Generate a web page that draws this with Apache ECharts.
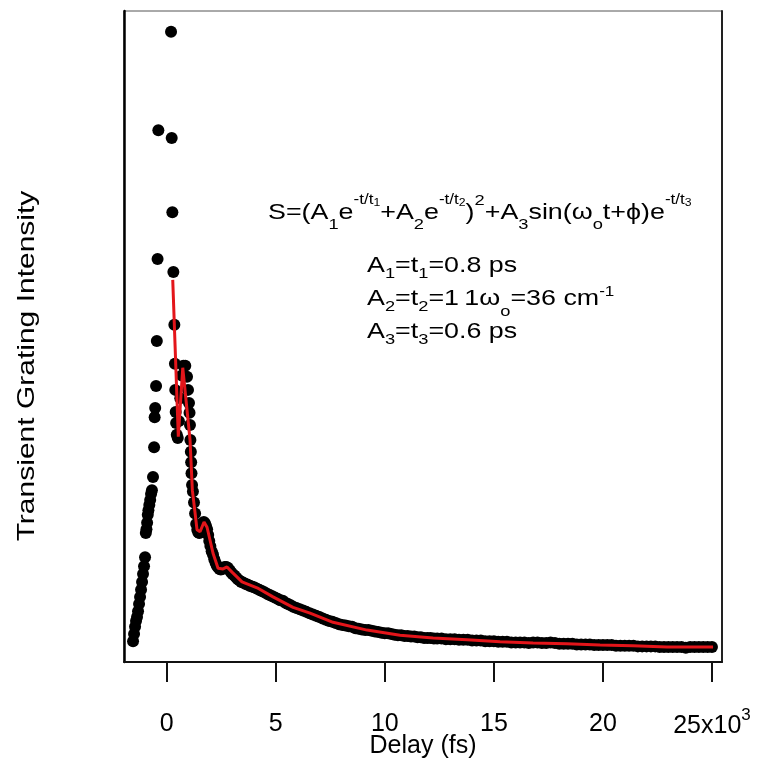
<!DOCTYPE html>
<html>
<head>
<meta charset="utf-8">
<script src="https://cdn.jsdelivr.net/npm/echarts@6/dist/echarts.min.js"></script>
<style>
  html, body { margin: 0; padding: 0; background: #fff; }
  #chart { width: 759px; height: 761px; }
</style>
</head>
<body>
<div id="chart"></div>
<script>
// Measured transient grating signal (delay in fs, intensity in arbitrary units)
const delay = [
  -1545, -1499, -1453, -1408, -1362, -1316, -1270, -1224, -1178, -1132, -1087, -1041, -995,
  -960, -930, -900, -870, -840, -800, -760, -720, -680, -630, -580, -555, -530, -490, -455, -420, -385,
  197, 228, 257, 303, 349, 375, 390, 410, 430, 460, 505, 560, 620, 690, 760, 850, 930, 975, 1020,
  1045, 1065, 1085, 1105, 1120, 1135, 1160,
  1200, 1250, 1300, 1350, 1400, 1450, 1500, 1550, 1600, 1650, 1700, 1750, 1800, 1850, 1900, 1950,
  2000, 2060, 2120, 2180, 2240, 2300, 2360, 2420, 2480, 2540, 2600, 2660, 2720, 2780, 2840, 2900,
  2960, 3020, 3100, 3180, 3260, 3340, 3420, 3500, 3600, 3700, 3800, 3900, 4000, 4120, 4240, 4360,
  4480, 4600, 4720, 4840, 4960, 5080, 5200, 5320, 5440, 5560, 5680, 5800, 5950, 6100, 6250, 6400,
  6550, 6700, 6850, 7000, 7150, 7300, 7450, 7600, 7750, 7900, 8050, 8200, 8350, 8500, 8650, 8800,
  8950, 9100, 9250, 9400, 9550, 9700, 9850, 10000, 10150, 10300, 10450, 10600, 10750, 10900, 11050,
  11200, 11350, 11500, 11650, 11800, 11950, 12100, 12250, 12400, 12600, 12800, 13000, 13200, 13400,
  13600, 13800, 14000, 14200, 14400, 14600, 14800, 15000, 15200, 15400, 15600, 15800, 16000, 16200,
  16400, 16600, 16800, 17000, 17200, 17400, 17600, 17800, 18000, 18200, 18400, 18600, 18800, 19000,
  19200, 19400, 19600, 19800, 20000, 20200, 20400, 20600, 20800, 21000, 21200, 21400, 21600, 21800,
  22000, 22200, 22400, 22600, 22800, 23000, 23200, 23400, 23600, 23800, 24000, 24200, 24400, 24600,
  24800, 25000
];
const intensity = [
  0.032, 0.043, 0.054, 0.063, 0.069, 0.078, 0.089, 0.100, 0.111, 0.123, 0.135, 0.147, 0.161,
  0.198, 0.204, 0.214, 0.226, 0.233, 0.241, 0.249, 0.258, 0.264, 0.284, 0.330, 0.376, 0.390, 0.424, 0.493, 0.619, 0.817,
  0.968, 0.805, 0.691, 0.599, 0.518, 0.458, 0.418, 0.384, 0.367, 0.349, 0.344, 0.370, 0.405, 0.440, 0.455, 0.455, 0.438, 0.418, 0.398,
  0.383, 0.364, 0.341, 0.323, 0.307, 0.290, 0.272,
  0.262, 0.245, 0.228, 0.212, 0.203, 0.199, 0.198, 0.201, 0.207, 0.213, 0.215, 0.213, 0.209, 0.204, 0.195, 0.186,
  0.178, 0.170, 0.165, 0.158, 0.152, 0.148, 0.145, 0.143, 0.142, 0.143, 0.144, 0.146, 0.146, 0.145, 0.143, 0.140,
  0.137, 0.135, 0.133, 0.130, 0.127, 0.125, 0.123, 0.122, 0.120, 0.119, 0.117, 0.116, 0.115, 0.113, 0.111, 0.109,
  0.107, 0.105, 0.103, 0.101, 0.099, 0.097, 0.095, 0.094, 0.091, 0.089, 0.087, 0.085, 0.083, 0.081, 0.079, 0.077,
  0.075, 0.073, 0.071, 0.069, 0.067, 0.065, 0.063, 0.062, 0.060, 0.058, 0.057, 0.056, 0.055, 0.054, 0.052, 0.051,
  0.050, 0.049, 0.049, 0.048, 0.047, 0.046, 0.045, 0.044, 0.044, 0.043, 0.042, 0.041, 0.041, 0.040, 0.040,
  0.039, 0.039, 0.038, 0.038, 0.037, 0.037, 0.037, 0.036, 0.036, 0.036, 0.035, 0.035, 0.035, 0.034,
  0.034, 0.034, 0.033, 0.033, 0.033, 0.032, 0.032, 0.032, 0.031, 0.031, 0.031, 0.030, 0.030, 0.030,
  0.030, 0.029, 0.030, 0.030, 0.029, 0.029, 0.030, 0.029, 0.028, 0.028, 0.028, 0.028, 0.027, 0.027,
  0.027, 0.027, 0.026, 0.026, 0.026, 0.026, 0.026, 0.025, 0.025, 0.025, 0.025, 0.025, 0.024, 0.024,
  0.024, 0.024, 0.024, 0.023, 0.023, 0.023, 0.023, 0.023, 0.023, 0.022, 0.023, 0.023, 0.023, 0.023,
  0.023, 0.023
];

// Fitted model curve
const fitDelay = [
  275, 530, 734, 1068, 1174, 1206, 1298, 1389, 1527, 1710, 1848, 2123, 2352, 2582, 2765, 2994,
  3452, 4140, 4874, 5791, 6571, 7626, 9185, 10698, 12211, 13770, 15283, 16796, 18355, 19868,
  21381, 22940, 24453, 25050
];
const fitIntensity = [
  0.587, 0.346, 0.452, 0.341, 0.264, 0.267, 0.229, 0.203, 0.200, 0.215, 0.207, 0.167, 0.144, 0.143, 0.146, 0.138,
  0.123, 0.114, 0.100, 0.084, 0.075, 0.061, 0.049, 0.041, 0.037, 0.034, 0.031, 0.029, 0.028, 0.026,
  0.025, 0.023, 0.023, 0.023
];

const xTicks = [0, 5000, 10000, 15000, 20000, 25000];

const chart = echarts.init(document.getElementById('chart'), null, { renderer: 'canvas' });

const FONT = '"Liberation Sans", Arial, Helvetica, sans-serif';
const STRETCH = 1.22;

const dots = delay.map((d, i) => [d, intensity[i]]);
const fit = fitDelay.map((d, i) => [d, fitIntensity[i]]);

// rich-text styles for sub/superscripts (line box 30px, main glyph centred)
function richStyles(main) {
  const base = { fontFamily: FONT, color: '#000', lineHeight: 30 };
  return {
    m: Object.assign({}, base, { fontSize: main }),
    sb: Object.assign({}, base, { fontSize: 15, height: 6, verticalAlign: 'bottom' }),
    sb2: Object.assign({}, base, { fontSize: 15, height: 14, verticalAlign: 'bottom' }),
    so: Object.assign({}, base, { fontSize: 15, height: 4, verticalAlign: 'bottom' }),
    sp: Object.assign({}, base, { fontSize: 14, height: 5, verticalAlign: 'top' }),
    ssb: Object.assign({}, base, { fontSize: 10, height: 11, verticalAlign: 'top' }),
    sp2: Object.assign({}, base, { fontSize: 15, height: 6, verticalAlign: 'top' }),
    sp3: Object.assign({}, base, { fontSize: 14, height: 16, verticalAlign: 'top' })
  };
}

const formula =
  '{m|S=(A}{sb|1}{m|e}{sp|-t/t}{ssb|1}{m|+A}{sb|2}{m|e}{sp|-t/t}{ssb|2}{m|)}{sp2|2}' +
  '{m|+A}{sb|3}{m|sin(ω}{sb|o}{m|t+ϕ)e}{sp|-t/t}{ssb|3}';
const line1 = '{m|A}{sb2|1}{m|=t}{sb2|1}{m|=0.8 ps}';
const line2 = '{m|A}{sb2|2}{m|=t}{sb2|2}{m|=1\u20091ω}{so|o}{m|=36 cm}{sp3|-1}';
const line3 = '{m|A}{sb2|3}{m|=t}{sb2|3}{m|=0.6 ps}';

function textEl(text, x, y) {
  return {
    type: 'text', x: x, y: y, scaleX: STRETCH, z: 10,
    style: { text: text, rich: richStyles(22), align: 'left', verticalAlign: 'top', fill: '#000' }
  };
}

const option = {
  backgroundColor: '#fff',
  animation: false,
  grid: {
    left: 124, right: 37, top: 11, bottom: 99, outerBoundsMode: 'none', containLabel: false,
    show: true, borderColor: '#555', borderWidth: 1
  },
  xAxis: {
    type: 'value', min: -1960, max: 25460,
    name: 'Delay (fs)', nameLocation: 'middle', nameGap: 72, nameMoveOverlap: false,
    nameTextStyle: { fontFamily: FONT, fontSize: 25, color: '#000', verticalAlign: 'top' },
    axisLine: { show: true, onZero: false, lineStyle: { color: '#111', width: 2 } },
    axisTick: { show: true, inside: false, length: 20, customValues: xTicks, lineStyle: { color: '#111', width: 2 } },
    axisLabel: {
      customValues: xTicks, margin: 50, fontFamily: FONT, fontSize: 25, color: '#000',
      formatter: v => v === 25000 ? '{a|25x10}{s|3}' : String(v / 1000),
      rich: {
        a: { fontFamily: FONT, fontSize: 25, color: '#000' },
        s: { fontFamily: FONT, fontSize: 17, color: '#000', verticalAlign: 'top', height: 6, lineHeight: 28 }
      }
    },
    splitLine: { show: false }
  },
  yAxis: [
    {
      type: 'value', min: 0, max: 1, position: 'left',
      axisLine: { show: true, onZero: false, lineStyle: { color: '#000', width: 2.5 } },
      axisTick: { show: false }, axisLabel: { show: false }, splitLine: { show: false }
    },
    {
      type: 'value', min: 0, max: 1, position: 'right',
      axisLine: { show: true, onZero: false, lineStyle: { color: '#222', width: 2 } },
      axisTick: { show: false }, axisLabel: { show: false }, splitLine: { show: false }
    }
  ],
  series: [
    {
      name: 'data', type: 'scatter', data: dots, symbol: 'circle', symbolSize: 12,
      itemStyle: { color: '#000', opacity: 1 }, z: 2, silent: true
    },
    {
      name: 'fit', type: 'line', data: fit, showSymbol: false, smooth: false,
      lineStyle: { color: '#e3151a', width: 3 }, z: 3, silent: true
    }
  ],
  graphic: [
    textEl(formula, 268, 198),
    textEl(line1, 367, 251),
    textEl(line2, 367, 284),
    textEl(line3, 367, 317),
    {
      type: 'text', x: 27, y: 366, rotation: Math.PI / 2, scaleX: 1.25, z: 10,
      style: {
        text: 'Transient Grating Intensity', font: '24px ' + FONT,
        align: 'center', verticalAlign: 'middle', fill: '#000'
      }
    }
  ]
};

chart.setOption(option);
</script>
</body>
</html>
